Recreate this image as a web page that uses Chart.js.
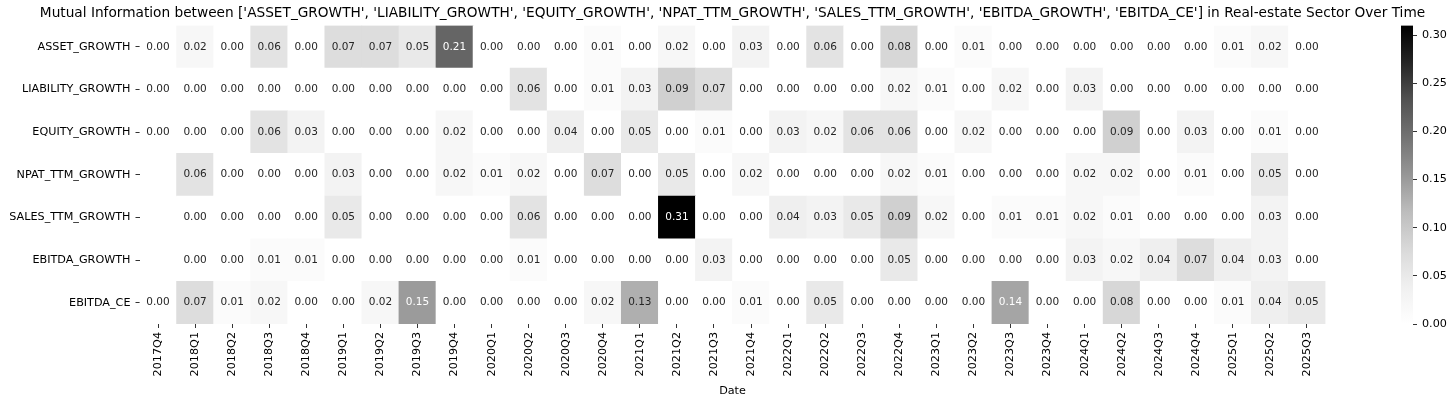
<!DOCTYPE html>
<html>
<head>
<meta charset="utf-8">
<script src="https://cdn.jsdelivr.net/npm/chart.js@4.4.1/dist/chart.umd.min.js"></script>
<style>
  html, body { margin: 0; padding: 0; background: #fff; }
  #wrap { position: relative; width: 1456px; height: 401px; }
  #heatmap { position: absolute; left: 0; top: 0; }
  #colorbar { position: absolute; left: 1390px; top: 0; }
</style>
</head>
<body>
<div id="wrap">
  <canvas id="heatmap" width="1456" height="401"></canvas>
  <canvas id="colorbar" width="66" height="401"></canvas>
</div>
<script>
const titleText = "Mutual Information between ['ASSET_GROWTH', 'LIABILITY_GROWTH', 'EQUITY_GROWTH', 'NPAT_TTM_GROWTH', 'SALES_TTM_GROWTH', 'EBITDA_GROWTH', 'EBITDA_CE'] in Real-estate Sector Over Time";

const periods = [
  "2017Q4", "2018Q1", "2018Q2", "2018Q3", "2018Q4", "2019Q1", "2019Q2", "2019Q3",
  "2019Q4", "2020Q1", "2020Q2", "2020Q3", "2020Q4", "2021Q1", "2021Q2", "2021Q3",
  "2021Q4", "2022Q1", "2022Q2", "2022Q3", "2022Q4", "2023Q1", "2023Q2", "2023Q3",
  "2023Q4", "2024Q1", "2024Q2", "2024Q3", "2024Q4", "2025Q1", "2025Q2", "2025Q3"
];

const rowNames = [
  "ASSET_GROWTH", "LIABILITY_GROWTH", "EQUITY_GROWTH", "NPAT_TTM_GROWTH",
  "SALES_TTM_GROWTH", "EBITDA_GROWTH", "EBITDA_CE"
];

// one value per quarter, null = empty cell
const assetGrowth = [0.00, 0.02, 0.00, 0.06, 0.00, 0.07, 0.07, 0.05, 0.21, 0.00, 0.00, 0.00, 0.01, 0.00, 0.02, 0.00,
  0.03, 0.00, 0.06, 0.00, 0.08, 0.00, 0.01, 0.00, 0.00, 0.00, 0.00, 0.00, 0.00, 0.01, 0.02, 0.00];
const liabilityGrowth = [0.00, 0.00, 0.00, 0.00, 0.00, 0.00, 0.00, 0.00, 0.00, 0.00, 0.06, 0.00, 0.01, 0.03, 0.09, 0.07,
  0.00, 0.00, 0.00, 0.00, 0.02, 0.01, 0.00, 0.02, 0.00, 0.03, 0.00, 0.00, 0.00, 0.00, 0.00, 0.00];
const equityGrowth = [0.00, 0.00, 0.00, 0.06, 0.03, 0.00, 0.00, 0.00, 0.02, 0.00, 0.00, 0.04, 0.00, 0.05, 0.00, 0.01,
  0.00, 0.03, 0.02, 0.06, 0.06, 0.00, 0.02, 0.00, 0.00, 0.00, 0.09, 0.00, 0.03, 0.00, 0.01, 0.00];
const npatTtmGrowth = [null, 0.06, 0.00, 0.00, 0.00, 0.03, 0.00, 0.00, 0.02, 0.01, 0.02, 0.00, 0.07, 0.00, 0.05, 0.00,
  0.02, 0.00, 0.00, 0.00, 0.02, 0.01, 0.00, 0.00, 0.00, 0.02, 0.02, 0.00, 0.01, 0.00, 0.05, 0.00];
const salesTtmGrowth = [null, 0.00, 0.00, 0.00, 0.00, 0.05, 0.00, 0.00, 0.00, 0.00, 0.06, 0.00, 0.00, 0.00, 0.31, 0.00,
  0.00, 0.04, 0.03, 0.05, 0.09, 0.02, 0.00, 0.01, 0.01, 0.02, 0.01, 0.00, 0.00, 0.00, 0.03, 0.00];
const ebitdaGrowth = [null, 0.00, 0.00, 0.01, 0.01, 0.00, 0.00, 0.00, 0.00, 0.00, 0.01, 0.00, 0.00, 0.00, 0.00, 0.03,
  0.00, 0.00, 0.00, 0.00, 0.05, 0.00, 0.00, 0.00, 0.00, 0.03, 0.02, 0.04, 0.07, 0.04, 0.03, 0.00];
const ebitdaCe = [0.00, 0.07, 0.01, 0.02, 0.00, 0.00, 0.02, 0.15, 0.00, 0.00, 0.00, 0.00, 0.02, 0.13, 0.00, 0.00,
  0.01, 0.00, 0.05, 0.00, 0.00, 0.00, 0.00, 0.14, 0.00, 0.00, 0.08, 0.00, 0.00, 0.01, 0.04, 0.05];

const rowValues = [assetGrowth, liabilityGrowth, equityGrowth, npatTtmGrowth, salesTtmGrowth, ebitdaGrowth, ebitdaCe];

const colorTicks = [0.00, 0.05, 0.10, 0.15, 0.20, 0.25, 0.30];
const vmax = 0.31;

// matplotlib "Greys"
const greyStops = [255, 240, 217, 189, 150, 115, 82, 37, 0];

Chart.defaults.font.family = "'DejaVu Sans', sans-serif";
Chart.defaults.color = "#000";

function greyLevel(t) {
  t = Math.min(Math.max(t, 0), 1);
  const p = t * (greyStops.length - 1);
  const i = Math.min(Math.floor(p), greyStops.length - 2);
  return Math.round(greyStops[i] + (greyStops[i + 1] - greyStops[i]) * (p - i));
}

function grey(t) {
  const g = greyLevel(t);
  return "rgb(" + g + "," + g + "," + g + ")";
}

function textColor(v) {
  const c = greyLevel(v / vmax) / 255;
  const lum = c <= 0.03928 ? c / 12.92 : Math.pow((c + 0.055) / 1.055, 2.4);
  return lum < 0.408 ? "#fff" : "#262626";
}

const cellLabels = {
  id: "cellLabels",
  afterDatasetsDraw(chart) {
    const ctx = chart.ctx;
    ctx.save();
    ctx.font = "10.5px 'DejaVu Sans'";
    ctx.textAlign = "center";
    ctx.textBaseline = "middle";
    chart.data.datasets.forEach((ds, i) => {
      chart.getDatasetMeta(i).data.forEach((bar, j) => {
        const v = ds.mi[j];
        if (v === null) return;
        ctx.fillStyle = textColor(v);
        ctx.fillText(v.toFixed(2), bar.x, (bar.y + bar.base) / 2);
      });
    });
    ctx.restore();
  }
};

const topTitle = {
  id: "topTitle",
  afterDraw(chart) {
    const a = chart.chartArea;
    const ctx = chart.ctx;
    ctx.save();
    ctx.font = "13.7px 'DejaVu Sans'";
    ctx.fillStyle = "#000";
    ctx.textAlign = "center";
    ctx.textBaseline = "middle";
    ctx.fillText(titleText, (a.left + a.right) / 2, 13);
    ctx.restore();
  }
};

function loadHeatmap() {
  const canvas = document.getElementById("heatmap");
  if (!canvas) return;

  // bottom row first, the bars stack upwards
  const datasets = rowNames.map((name, r) => ({
    label: name,
    data: periods.map(() => 1),
    mi: rowValues[r],
    backgroundColor: rowValues[r].map(v => v === null ? "rgba(0,0,0,0)" : grey(v / vmax)),
    borderWidth: 0,
    barPercentage: 1,
    categoryPercentage: 1
  })).reverse();

  new Chart(canvas, {
    type: "bar",
    data: { labels: periods, datasets: datasets },
    plugins: [cellLabels, topTitle],
    options: {
      responsive: false,
      animation: false,
      layout: { padding: { left: 0, right: 130.5, top: 25.5, bottom: 0 } },
      plugins: {
        legend: { display: false },
        tooltip: { enabled: false }
      },
      scales: {
        x: {
          stacked: true,
          grid: { offset: false, drawOnChartArea: false, tickLength: 4, color: "#333" },
          border: { display: false },
          ticks: { autoSkip: false, minRotation: 90, maxRotation: 90, padding: 4, font: { size: 11.2 } },
          title: { display: true, text: "Date", font: { size: 11.2 }, padding: { top: 0, bottom: 3 } },
          afterFit(scale) { scale.height = 77; }
        },
        y: {
          stacked: true,
          min: 0,
          max: rowNames.length,
          afterBuildTicks(scale) {
            scale.ticks = rowNames.map((n, r) => ({ value: rowNames.length - r - 0.5 }));
          },
          ticks: {
            padding: 5,
            font: { size: 11.2 },
            callback: v => rowNames[rowNames.length - 1 - Math.floor(v)]
          },
          grid: { drawOnChartArea: false, tickLength: 4, color: "#333" },
          border: { display: false },
          afterFit(scale) { scale.width = 139.5; }
        }
      }
    }
  });
}

function barGradient(chart) {
  const area = chart.chartArea;
  if (!area) return grey(0.5);
  const y = chart.scales.y;
  const g = chart.ctx.createLinearGradient(0, y.getPixelForValue(0), 0, y.getPixelForValue(vmax));
  greyStops.forEach((s, i) => g.addColorStop(i / (greyStops.length - 1), "rgb(" + s + "," + s + "," + s + ")"));
  return g;
}

function loadColorbar() {
  const canvas = document.getElementById("colorbar");
  if (!canvas) return;

  new Chart(canvas, {
    type: "bar",
    data: {
      labels: [""],
      datasets: [{
        data: [vmax],
        backgroundColor: ctx => barGradient(ctx.chart),
        borderWidth: 0,
        barPercentage: 1,
        categoryPercentage: 1
      }]
    },
    options: {
      responsive: false,
      animation: false,
      layout: { padding: { left: 11, right: 0, top: 25.5, bottom: 77 } },
      plugins: {
        legend: { display: false },
        tooltip: { enabled: false }
      },
      scales: {
        x: { display: false },
        y: {
          position: "right",
          min: 0,
          max: vmax,
          afterBuildTicks(scale) {
            scale.ticks = colorTicks.map(v => ({ value: v }));
          },
          ticks: { padding: 5, font: { size: 11.2 }, callback: v => v.toFixed(2) },
          grid: { drawOnChartArea: false, tickLength: 4, color: "#333" },
          border: { display: false },
          afterFit(scale) { scale.width = 43; }
        }
      }
    }
  });
}

loadHeatmap();
loadColorbar();
</script>
</body>
</html>
